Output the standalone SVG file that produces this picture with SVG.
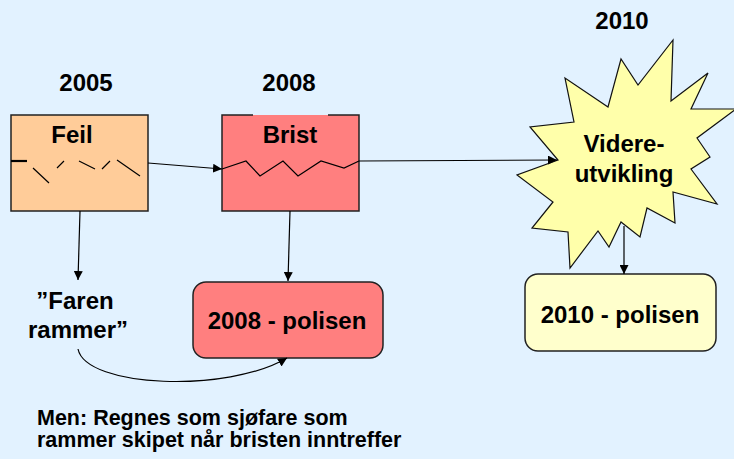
<svg xmlns="http://www.w3.org/2000/svg" width="734" height="459" viewBox="0 0 734 459">
  <defs>
    <marker id="arrow" viewBox="0 0 10 10" refX="10" refY="5" markerWidth="9" markerHeight="9" markerUnits="userSpaceOnUse" orient="auto">
      <path d="M0,0 L10,5 L0,10 z" fill="#000"/>
    </marker>
  </defs>
  <style>
    text { font-family: "Liberation Sans", Arial, sans-serif; font-weight: bold; fill: #000; }
    .lbl { font-size: 24px; text-anchor: middle; }
    .note { font-size: 21.5px; }
    .box { stroke: #222; stroke-width: 1.5; }
    .conn { fill: none; stroke: #000; stroke-width: 1.2; marker-end: url(#arrow); }
    .crack { fill: none; stroke: #000; stroke-width: 1.2; }
  </style>

  <rect x="0" y="0" width="734" height="459" fill="#E2F2FF"/>

  <!-- year labels -->
  <g id="years">
    <text class="lbl" x="86" y="91">2005</text>
    <text class="lbl" x="289" y="91">2008</text>
    <text class="lbl" x="622" y="29">2010</text>
  </g>

  <!-- 2005: Feil -->
  <g id="feil">
    <rect class="box" x="11" y="115" width="137" height="96" fill="#FFCC99"/>
    <text class="lbl" x="72" y="143">Feil</text>
    <line x1="11" y1="161" x2="27" y2="161" stroke="#000" stroke-width="2.2"/>
    <path class="crack" d="M33,168 L49,183 M57,168 L64,161 M79,161 L95,169 M102,169 L110,161 M117,160 L140,176"/>
  </g>

  <!-- 2008: Brist -->
  <g id="brist">
    <rect x="222" y="115" width="137" height="96" fill="#FF7F7F"/>
    <path class="box" fill="none" d="M253,115 H222 V211 H359 V115 H328"/>
    <text class="lbl" x="290" y="143">Brist</text>
    <path class="crack" d="M222,169 L246,161 L260,176 L283,161 L298,176 L321,161 L344,168 L359,161"/>
  </g>

  <!-- 2010: Videreutvikling -->
  <g id="videreutvikling">
    <polygon fill="#FFFFAA" stroke="#111" stroke-width="1.2" points="673,40 671,101 708,73 691,109 736,109 697,138 710,157 691,169 717,204 673,192 675,223 647,208 640,237 621,222 609,247 598,231 570,268 568,232 532,228 553,202 517,175 558,160 530,127 574,122 565,78 608,107 621,59 638,85"/>
    <text class="lbl" x="624" y="152">Videre-</text>
    <text class="lbl" x="624" y="182">utvikling</text>
  </g>

  <!-- Faren rammer -->
  <g id="faren">
    <text class="lbl" x="75" y="309">”Faren</text>
    <text class="lbl" x="78" y="338">rammer”</text>
  </g>

  <!-- 2008 policy -->
  <g id="polise2008">
    <rect class="box" x="193" y="282" width="190" height="76" rx="13" ry="13" fill="#FF7F7F"/>
    <text class="lbl" x="287" y="329">2008 - polisen</text>
  </g>

  <!-- 2010 policy -->
  <g id="polise2010">
    <rect class="box" x="525" y="274" width="191" height="77" rx="13" ry="13" fill="#FFFFCC"/>
    <text class="lbl" x="620" y="323">2010 - polisen</text>
  </g>

  <!-- connectors -->
  <g id="connectors">
    <line class="conn" x1="148" y1="163" x2="222" y2="169"/>
    <line class="conn" x1="359" y1="161" x2="557" y2="160"/>
    <line class="conn" x1="80" y1="211" x2="78" y2="280"/>
    <line class="conn" x1="290" y1="211" x2="288" y2="281"/>
    <line class="conn" x1="624" y1="226" x2="624" y2="274"/>
    <path class="conn" d="M78,349 C86,388 228,393 287,358"/>
  </g>

  <!-- note -->
  <g id="note">
    <text class="note" x="37" y="425">Men: Regnes som sjøfare som<tspan x="37" y="447">rammer skipet når bristen inntreffer</tspan></text>
  </g>
</svg>
